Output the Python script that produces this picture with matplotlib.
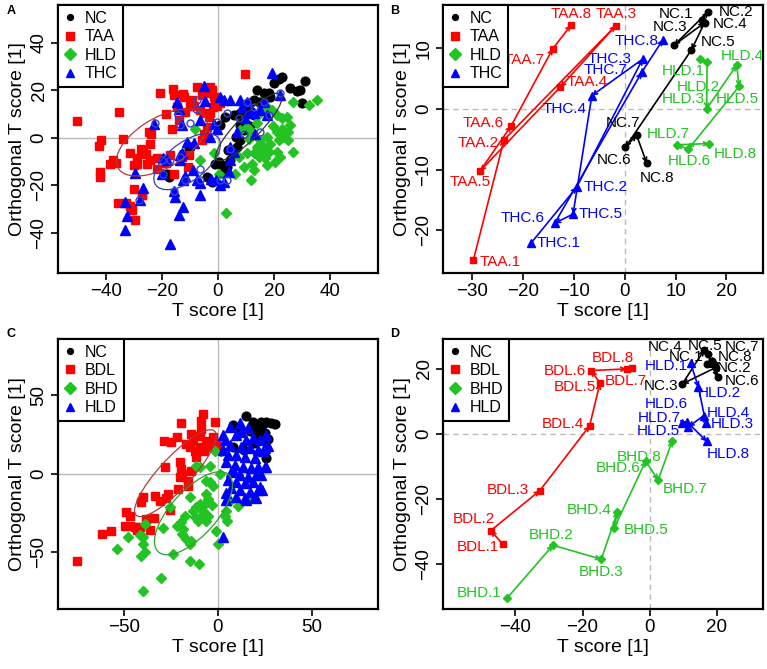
import matplotlib.pyplot as plt
import numpy as np
from matplotlib.patches import Ellipse
from matplotlib.lines import Line2D

plt.rcParams['font.family'] = ['Liberation Sans', 'DejaVu Sans']

RED = '#FF0000'
GREEN = '#22C322'
BLUE = '#0000FF'
BLACK = '#000000'

# ---------------- panel A : scores of all samples ----------------
nc_a = [(20, 23.3), (22.8, 25.8), (21.6, 24.7), (25.7, 20.9), (28.1, 19.9), (29.3, 20.2), (31, 24),
        (29.9, 14.5), (18, 18.8), (18.6, 17.3), (9.1, 13.1), (10.9, 14.5), (12.7, 15.9), (14.5, 15.2),
        (10.9, 11.7), (12.7, 9.6), (9.7, 9.6), (7.9, 5.4), (9.1, 3.2), (7.9, -1), (6.8, -3.8), (5.6, -6.6),
        (4.4, -9.5), (3.2, -12.3), (1.4, -11.6), (0.2, -10.2), (-0.9, -10.9), (-3.9, -16.5), (-2.1, -18.6),
        (-10.4, -4.5), (-9.8, -3.8), (-18.1, -15.1), (-17.6, -16.5), (7.9, 10.3), (5.6, 9.6), (2.6, 8.9),
        (0.8, 5.4), (16.3, 18.8), (13.9, 20.2), (6.5, 0.5), (8.5, 7), (11.5, 5), (3.5, -5), (1.5, -15)]
taa_a = [(-50.4, 7.2), (-42.3, -3.5), (-41.5, -1.0), (-42.2, -14.4), (-41.9, -16.5), (-35.1, 11.0),
         (-33.8, -0.7), (-38.3, -10.9), (-36.5, -10.6), (-37.4, -9.5), (-31.2, -6.3), (-30.0, -11.3),
         (-28.8, -10.9), (-30.0, -21.4), (-32.6, -27.4), (-31.2, -28.9), (-30.6, -30.3), (-29.4, -34.8),
         (-27.0, -24.0), (-27.6, -4.5), (-26.7, -6.3), (-25.7, -6.9), (-28.8, -8.7), (-25.3, -10.9),
         (-24.1, -9.5), (-24.1, -2.4), (-23.8, 1.8), (-21.7, -8.3), (-20.8, 18.8), (-18.6, 9.9),
         (-18.4, -10.6), (-17.0, -7.1), (-16.0, 20.5), (-15.8, 18.0), (-14.6, 13.1), (-14.0, 7.5),
         (-16.4, 3.9), (-12.5, 18.3), (-12.2, 17.1), (-12.8, -8.0), (-10.8, -12.3), (-10.4, -7.3),
         (-9.8, 13.4), (-9.3, 15.9), (-7.5, 21.3), (-5.7, 18.0), (-3.9, 18.8), (-2.1, 20.2), (-1.5, 17.3),
         (-0.9, 15.2), (-1.8, 13.1), (-3.3, 8.9), (-3.0, 10.3), (-6.3, 11.7), (-4.9, 10.6), (-0.4, 13.4),
         (9.7, 26.9), (-8.4, 13.4), (-11.6, 11.0), (-21.7, -13.0), (-35.7, -27.5), (-27.2, -24.3),
         (-24.7, 2.5), (-5.1, 1.8), (-3.9, 4.7), (-5.7, -1.0), (-2.7, 21.6), (0.8, 14.5), (-15.8, -15.1)]
hld_a = [(2.8, -31.6), (-8.1, 3.9), (-6.3, -9.2), (-1.5, -6.6), (0.2, -15.1), (6.2, -15.1), (9.1, -12.3),
         (12.1, -10.9), (12.7, -13.7), (11.7, -17.9), (7.4, -8), (10.3, -6.6), (12.7, -6.6), (7.9, 3.2),
         (10.3, 4.7), (12.1, 2.5), (13.9, 6.1), (15.1, -1), (16.3, -3.8), (17.4, 0.4), (18.6, -2.4),
         (16.3, 11.7), (17.4, 13.1), (19.2, 11.7), (21, 9.6), (22.8, 8.2), (24.6, 8.9), (21, 2.5),
         (22.8, 3.9), (24, 1.8), (21.6, -1), (23.4, 0.4), (25.1, -1), (21, -5.9), (22.2, -8), (26.9, -5.9),
         (16.8, -8.7), (17.4, -11.6), (20.4, -10.2), (15.7, -6.6), (26.9, 15.2), (32.3, 13.8), (35.2, 15.9),
         (25.7, 5.4), (24.8, 2.5), (13.9, -3.8), (14.5, -8), (10.9, -0.3), (19.5, 5), (18, -6), (14, 9)]
thc_a = [(-33, -39), (-32.4, -33.1), (-33.3, -27.1), (-29.7, -14.7), (-27.9, -26.4), (-26.7, -21),
         (-22.7, 5.8), (-19.6, -8.7), (-18.1, -9.5), (-19.9, -15.1), (-17, -44.7), (-15.8, -22.4),
         (-15.2, -25), (-14.6, 15.2), (-14, 12), (-12.8, 5.4), (-13.6, -7.3), (-12.8, -6.6), (-13.4, -9.2),
         (-12.5, -29.2), (-14, -32.7), (-11.6, -16.2), (-12.5, -17.9), (-11, -1.7), (-8.9, -13.4),
         (-7.5, -17.9), (-6.3, -19), (-6.3, 7.5), (-4.9, 21.9), (-4.7, 15.7), (-6.5, -24.3), (-2.5, -17.2),
         (-0.6, -17.9), (-1.5, 5.8), (-0.4, 3.9), (0.8, 17.3), (2.3, 15.9), (4.4, 15.9), (0.8, -20),
         (2.3, -18.6), (3.8, -14.4), (4.4, -9.5), (4.4, -3.8), (5.6, -5.9), (6.8, 2.5), (7.7, 15.9),
         (8.5, 13.1), (10.3, 15.2), (12.7, 10.3), (15.1, 11.7), (17.4, 9.6), (13.3, 1.8), (16.3, 15.2),
         (19.2, 27.5), (22.2, 18), (9.7, 8.2), (11.7, 11), (-8.5, -2), (-3, 0.5)]
ring_a = [(-7.5, 15.9), (-14.2, 9.6), (-13.4, 5.4), (-10.1, 6.1), (-19.9, -9.2), (-17, -9.2), (-19.6, -15.4),
          (-15.8, -22.4), (-6.3, -17.9), (-0.4, 6.8), (3.2, 10.3), (7.4, 8.2), (12.7, 13.1), (16.3, 15.2),
          (18, 9.6), (15.1, 2.5), (9.1, 1.8), (4.4, -4.5), (0.8, -17.9), (3.2, -17.9), (-6.3, -13),
          (-11.6, -17.9), (22.2, 18.8), (10.3, 15.2), (-28.2, -26.4), (-22.5, 6.1), (-13.5, -8), (-8, 12)]

# ---------------- panel B : group trajectories ----------------
nc_b_x = [15.1, 16.4, 9.7, 15.7, 13.1, 0.1, 2.3, 4.3]
nc_b_y = [14.6, 16.0, 10.5, 14.2, 9.7, -6.3, -4.3, -8.9]
taa_b_x = [-29.8, -23.8, -1.8, -12.7, -28.5, -22.4, -14.2, -10.6]
taa_b_y = [-24.8, -5.1, 13.7, 3.6, -10.2, -2.8, 9.9, 13.8]
hld_b_x = [14.8, 16.2, 16.1, 22.0, 22.5, 12.5, 10.2, 16.6]
hld_b_y = [8.2, 7.7, 0.0, 7.2, 3.7, -6.6, -5.9, -5.7]
thc_b_x = [-18.5, -9.5, 3.5, -6.5, -10.2, -13.8, 3.3, 7.5]
thc_b_y = [-22.1, -12.9, 8.2, 2.2, -17.3, -18.8, 6.0, 11.4]

# ---------------- panel C : scores of all samples ----------------
nc_c = [(15, 36.8), (18.6, 33), (21.2, 29.4), (23.9, 31.9), (25.7, 33), (28.3, 32.3), (30.1, 31.9),
        (26.5, 22.3), (25.7, 10), (24.8, 26.4), (8, 30.9), (11.5, 28.7), (21.2, 24.5), (16.8, 27.7),
        (1.8, 14.9), (8, 17), (23, 33), (19, 20), (14, 15)]
bdl_c = [(-74.7, -55.3), (-61.4, -38.3), (-57, -36.6), (-49, -24), (-46.9, -26.6), (-49.6, -33.4),
         (-46.9, -33), (-44.2, -34), (-41.6, -33.6), (-39.8, -14.9), (-40.7, -18.1), (-38, -28.7),
         (-34.2, -28.3), (-33.3, -14.3), (-31, -17), (-28.7, 21.3), (-24.8, 20.2), (-28.3, 4.3),
         (-26.5, -12.8), (-27.4, -15.3), (-25.3, -23), (-21.2, -9.6), (-20.4, 7.4), (-19.5, 3.2),
         (-18.9, 0), (-21.6, 23.4), (-19.5, 32.3), (-16.8, 19.1), (-15, 17), (-14.2, 25.5), (-13.3, 21.3),
         (-15.9, -4.3), (-15.9, -7.4), (-14.2, 2.1), (-12.4, 14.9), (-9.7, 17), (-11.5, 10.6), (-9.7, 24.5),
         (-8.8, 28.7), (-8.8, 34), (-8, 38.3), (-6.2, 21.3), (-4.4, 19.1), (-2.7, 23.4), (-1.8, 33),
         (-0.9, 19.1), (-7.6, 14.9), (-5.3, 17), (-43, -36), (-36, -36), (-20, -2)]
bhd_c = [(-53.6, -47.9), (-47.8, -40.4), (-41.6, -38.7), (-39.8, -40.4), (-38.9, -31.9), (-39.8, -44.7),
         (-38.9, -50), (-40.7, -52.1), (-39.8, -74.5), (-30.1, -66), (-29.2, -34.5), (-25.7, -21.3),
         (-23.9, -51.1), (-19.5, -30.9), (-18.6, -35.1), (-18.9, -38.3), (-17.7, -26.6), (-16.8, -41.5),
         (-14.2, -42.6), (-15, -44.7), (-15, -14.9), (-14.6, -55.3), (-10.1, -57.4), (-13.3, -23.4),
         (-11.5, -21.3), (-9.7, -19.1), (-12.4, -27.7), (-10.6, -29.8), (-8.8, -26.6), (-11.5, 5.3),
         (-9.7, 4.3), (-4.4, 5.3), (-6.2, -4.3), (-4.4, -5.3), (-2.7, -7.4), (-6.2, -12.8), (-5.3, -16),
         (-7.1, -19.1), (-8, -23.4), (-5.3, -26.6), (-6.2, -29.8), (-0.9, -36.2), (0, -44.7), (-1.8, 14.9),
         (3.5, -26.6), (4.8, -29.8), (4.1, -23.4), (10.6, -20.2), (15.9, -16), (6.2, -17), (0.9, 0),
         (-22, -33), (-3, -20)]
hld_c = [(11.5, 32.3), (15.9, 29.1), (9.7, 24.9), (18.6, 22.8), (22.1, 21.7), (25.7, 24.9), (3.5, 21.7),
         (6.2, 18.5), (12.4, 17.4), (16.8, 16.4), (21.2, 15.3), (24.8, 16.4), (2.7, 15.3), (5.3, 12.1),
         (9.7, 12.1), (14.2, 11.1), (19.5, 10), (4.4, 7.9), (8.8, 5.7), (13.3, 4.7), (17.7, 3.6),
         (21.2, 4.7), (7.1, 1.5), (11.5, -0.6), (15.9, -1.7), (20.4, -0.6), (5.3, -3.8), (9.7, -4.9),
         (14.2, -6), (18.6, -4.9), (22.1, -8.1), (7.1, -9.1), (11.5, -10.2), (16.8, -11.3), (21.2, -10.2),
         (4.4, -12.3), (9.7, -14.5), (14.2, -15.5), (19.5, -14.5), (23.5, -10.2), (8, 2.6), (15, 21.7),
         (12.4, 27), (24.8, 4.7), (2.7, 24.9), (6.2, 30.2), (15, -16.6), (4.1, -16.6), (20.4, -15.5),
         (23, -0.6), (2.7, -40), (25.7, 4.3), (23.9, 14.9), (26.5, 18.1)]

# ---------------- panel D : group trajectories ----------------
nc_d_x = [17.0, 19.6, 9.7, 16.2, 17.3, 20.2, 18.5, 19.0]
nc_d_y = [21.5, 20.4, 15.4, 25.8, 24.5, 17.5, 22.5, 21.5]
bdl_d_x = [-43.8, -47.3, -32.7, -17.9, -14.8, -17.4, -6.9, -5.2]
bdl_d_y = [-33.8, -29.7, -17.4, 2.5, 15.6, 19.5, 20.0, 20.4]
bhd_d_x = [-42.4, -28.8, -14.4, -9.6, -10.6, -1.2, 2.5, 6.7]
bhd_d_y = [-50.4, -34.2, -38.5, -23.9, -29.0, -8.3, -14.2, -2.1]
hld_d_x = [12.2, 14.5, 16.7, 16.0, 11.5, 9.5, 11.0, 17.0]
hld_d_y = [21.7, 14.3, 3.3, 5.6, 2.2, 3.5, 3.8, -2.3]

# label offsets (pixels) for the trajectory panels
nc_b_off = [(-25, 6), (28, 0), (-4, 18), (25, -1), (27, 8), (-11, -13), (-14, 12), (10, -15)]
taa_b_off = [(27, -2), (-26, -3), (0, 12), (27, 5), (-10, -11), (-28, 3), (-29, -11), (0, 11)]
hld_b_off = [(-17, -12), (-9, -25), (-23, 10), (6, 9), (-2, -13), (1, -12), (-8, 11), (26, -10)]
thc_b_off = [(28, 0), (29, 0), (-33, 0), (-27, -13), (28, 0), (-32, 5), (-36, 2), (-26, -1)]
nc_d_off = [(-21, 7), (18, 0), (-21, -2), (-39, 3), (-3, 8), (24, -4), (30, 14), (21, 7)]
bdl_d_off = [(-25, -3), (-17, 12), (-32, 1), (-27, 2), (-25, -4), (-26, 0), (-1, -12), (-19, 10)]
bhd_d_off = [(-28, 5), (-2, 10), (0, -13), (-28, 2), (32, -2), (-28, -7), (27, -9), (-33, -16)]
hld_d_off = [(-24, -3), (21, -6), (26, -1), (25, 3), (-30, -4), (-15, 19), (-27, 4), (21, -13)]

MS = {'o': 6.3, 's': 6.3, 'D': 5.6, '^': 6.8}


def style(ax, xlim, ylim, xticks, yticks, dashed):
    ax.set_xlim(xlim)
    ax.set_ylim(ylim)
    ax.set_xticks(xticks)
    ax.set_yticks(yticks)
    ls = (0, (4, 3)) if dashed else '-'
    ax.axhline(0, color='#BBBBBB', lw=1, ls=ls, zorder=0)
    ax.axvline(0, color='#BBBBBB', lw=1, ls=ls, zorder=0)
    for s in ax.spines.values():
        s.set_linewidth(1.6)
    ax.tick_params(length=5, width=1.2, labelsize=13.5, pad=2.5)
    ax.tick_params(axis='y', labelrotation=90)
    plt.setp(ax.get_yticklabels(), va='center')
    ax.set_xlabel('T score [1]', fontsize=14, labelpad=2)
    ax.set_ylabel('Orthogonal T score [1]', fontsize=14, labelpad=3)


def legend(ax, names, colors, markers):
    handles = [Line2D([], [], ls='none', marker=m, color=c, mec=c,
                      ms=4.2 if m == 'o' else 5.8) for c, m in zip(colors, markers)]
    leg = ax.legend(handles, names, loc='upper left', borderaxespad=0, fancybox=False,
                    edgecolor='black', framealpha=1, fontsize=11.5, handlelength=0.8,
                    handletextpad=0.5, labelspacing=0.22, borderpad=0.35)
    leg.get_frame().set_linewidth(1.5)


def cloud(ax, pts, color, marker):
    pts = np.array(pts)
    ax.plot(pts[:, 0], pts[:, 1], ls='none', marker=marker, color=color, mec=color,
            ms=MS[marker], zorder=2)


def trajectory(ax, xs, ys, color, marker, name, offsets):
    ax.plot(xs, ys, ls='none', marker=marker, color=color, mec=color,
            ms=MS[marker] * 0.75, zorder=3)
    for i in range(len(xs) - 1):
        ax.annotate('', xy=(xs[i + 1], ys[i + 1]), xytext=(xs[i], ys[i]),
                    arrowprops=dict(arrowstyle='->', color=color, lw=1.2,
                                    shrinkA=0, shrinkB=0, mutation_scale=7))
    for i, (x, y) in enumerate(zip(xs, ys)):
        dx, dy = offsets[i]
        ax.annotate(f'{name}.{i + 1}', (x, y), xytext=(dx, dy), textcoords='offset pixels',
                    ha='center', va='center', color=color, fontsize=11, zorder=4)


fig = plt.figure(figsize=(7.67, 6.69), dpi=100)
axA = fig.add_axes([0.0756, 0.5919, 0.4172, 0.4006])
axB = fig.add_axes([0.5776, 0.5919, 0.4172, 0.4006])
axC = fig.add_axes([0.0756, 0.0897, 0.4172, 0.4036])
axD = fig.add_axes([0.5776, 0.0897, 0.4172, 0.4036])

# A
cloud(axA, nc_a, BLACK, 'o')
cloud(axA, taa_a, RED, 's')
cloud(axA, hld_a, GREEN, 'D')
cloud(axA, thc_a, BLUE, '^')
ring = np.array(ring_a)
axA.plot(ring[:, 0], ring[:, 1], ls='none', marker='o', mfc='none', mec='#3344CC',
         ms=5, mew=1, zorder=3)
axA.add_patch(Ellipse((-20, -2), 38, 20, angle=38, fill=False, ec='#B03A3A', lw=0.9, zorder=4))
axA.add_patch(Ellipse((-11, -10), 30, 15, angle=45, fill=False, ec='#3A3AB0', lw=0.9, zorder=4))
axA.add_patch(Ellipse((11, 4.6), 36, 9, angle=51, fill=False, ec='#333333', lw=0.9, zorder=4))
style(axA, (-57, 57), (-57, 56), [-40, -20, 0, 20, 40], [-40, -20, 0, 20, 40], False)
legend(axA, ['NC', 'TAA', 'HLD', 'THC'], [BLACK, RED, GREEN, BLUE], ['o', 's', 'D', '^'])

# B
trajectory(axB, nc_b_x, nc_b_y, BLACK, 'o', 'NC', nc_b_off)
trajectory(axB, taa_b_x, taa_b_y, RED, 's', 'TAA', taa_b_off)
trajectory(axB, hld_b_x, hld_b_y, GREEN, 'D', 'HLD', hld_b_off)
trajectory(axB, thc_b_x, thc_b_y, BLUE, '^', 'THC', thc_b_off)
style(axB, (-35.8, 27.2), (-27, 17.1), [-30, -20, -10, 0, 10, 20], [-20, -10, 0, 10], True)
legend(axB, ['NC', 'TAA', 'HLD', 'THC'], [BLACK, RED, GREEN, BLUE], ['o', 's', 'D', '^'])

# C
cloud(axC, nc_c, BLACK, 'o')
cloud(axC, bdl_c, RED, 's')
cloud(axC, bhd_c, GREEN, 'D')
cloud(axC, hld_c, BLUE, '^')
axC.add_patch(Ellipse((-22.6, 0.5), 68, 18, angle=53, fill=False, ec='#B03A3A', lw=0.9, zorder=4))
axC.add_patch(Ellipse((-13, -25), 62, 26, angle=55, fill=False, ec='#2EA02E', lw=0.9, zorder=4))
style(axC, (-85, 85), (-86, 86), [-50, 0, 50], [-50, 0, 50], False)
legend(axC, ['NC', 'BDL', 'BHD', 'HLD'], [BLACK, RED, GREEN, BLUE], ['o', 's', 'D', '^'])

# D
trajectory(axD, nc_d_x, nc_d_y, BLACK, 'o', 'NC', nc_d_off)
trajectory(axD, bdl_d_x, bdl_d_y, RED, 's', 'BDL', bdl_d_off)
trajectory(axD, bhd_d_x, bhd_d_y, GREEN, 'D', 'BHD', bhd_d_off)
trajectory(axD, hld_d_x, hld_d_y, BLUE, '^', 'HLD', hld_d_off)
style(axD, (-61.5, 33.7), (-53.8, 29.2), [-40, -20, 0, 20], [-40, -20, 0, 20], True)
legend(axD, ['NC', 'BDL', 'BHD', 'HLD'], [BLACK, RED, GREEN, BLUE], ['o', 's', 'D', '^'])

for lab, x, y in [('A', 0.0143, 0.983), ('B', 0.515, 0.983), ('C', 0.0143, 0.5007), ('D', 0.515, 0.5007)]:
    fig.text(x, y, lab, fontsize=9, fontweight='bold', ha='center', va='center')

fig.savefig('out.png', dpi=100)
